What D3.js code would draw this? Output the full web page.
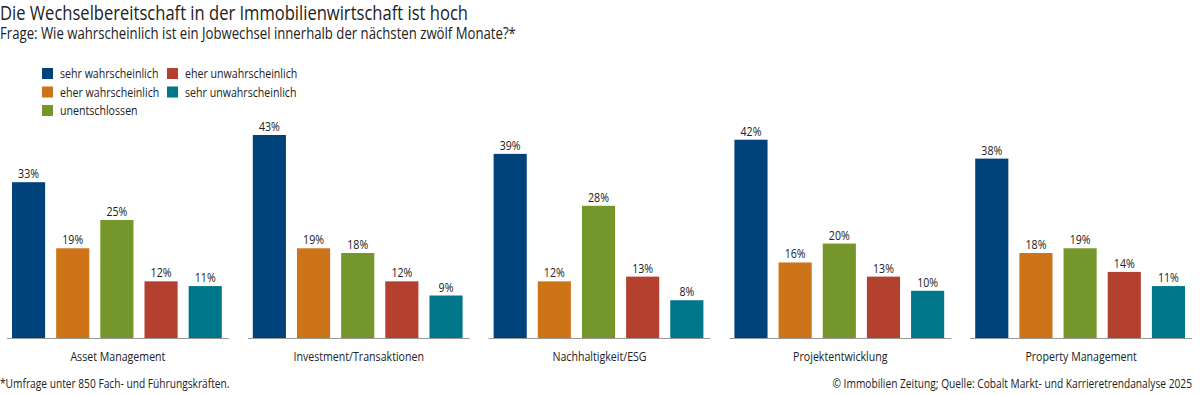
<!DOCTYPE html>
<html><head><meta charset="utf-8">
<script src="https://cdn.jsdelivr.net/npm/d3@7"></script>
<style>
body{margin:0;background:#fff;}
svg text{font-family:"Open Sans",sans-serif;fill:#222;}
</style></head>
<body><svg id="c" width="1200" height="395"></svg>
<script>
const categories = ["Asset Management","Investment/Transaktionen","Nachhaltigkeit/ESG","Projektentwicklung","Property Management"];
const seriesNames = ["sehr wahrscheinlich","eher wahrscheinlich","unentschlossen","eher unwahrscheinlich","sehr unwahrscheinlich"];
const seriesColors = ["#00427a","#cd7419","#74962a","#b4412f","#00768a"];
const sehrWahrscheinlich = [33,43,39,42,38];
const eherWahrscheinlich = [19,19,12,16,18];
const unentschlossen = [25,18,28,20,19];
const eherUnwahrscheinlich = [12,12,13,13,14];
const sehrUnwahrscheinlich = [11,9,8,10,11];
const seriesValues = [sehrWahrscheinlich,eherWahrscheinlich,unentschlossen,eherUnwahrscheinlich,sehrUnwahrscheinlich];

const COND = 0.85; // horizontal condensing to mimic a condensed typeface
function txt(parent, x, y, str, size, anchor, fill){
  return parent.append("text")
    .attr("transform",`translate(${x},${y}) scale(${COND},1)`)
    .attr("font-size",size).attr("text-anchor",anchor||"start")
    .attr("fill",fill||"#222").text(str);
}

const svg = d3.select("#c");
txt(svg,0,20,"Die Wechselbereitschaft in der Immobilienwirtschaft ist hoch",19.5,"start","#1a1a1a");
txt(svg,0,39,"Frage: Wie wahrscheinlich ist ein Jobwechsel innerhalb der nächsten zwölf Monate?*",15.5,"start","#333");

// legend
const legPos = [[42,68],[42,86.5],[42,105],[167,68],[167,86.5]];
seriesNames.forEach((name,i)=>{
  const [lx,ly] = legPos[i];
  svg.append("rect").attr("x",lx).attr("y",ly).attr("width",11).attr("height",11).attr("fill",seriesColors[i]);
  txt(svg,lx+18,ly+10,name,12.5,"start","#333");
});

const baseY = 338;
const y = d3.scaleLinear().domain([0,43]).range([baseY,135]);
const gx = d3.scaleBand().domain(categories).range([7,1192]).paddingInner(0.079).paddingOuter(0);
const bx = d3.scaleBand().domain(d3.range(5)).range([5,gx.bandwidth()-7]).paddingInner(0.25).paddingOuter(0);

const g = svg.selectAll("g.grp").data(categories).join("g").attr("class","grp")
  .attr("transform",d=>`translate(${gx(d)},0)`);
g.each(function(cat,ci){
  const gg = d3.select(this);
  const vals = seriesValues.map(a=>a[ci]);
  gg.selectAll("rect").data(vals).join("rect")
    .attr("x",(d,i)=>bx(i)).attr("width",bx.bandwidth())
    .attr("y",d=>y(d)).attr("height",d=>baseY-y(d))
    .attr("fill",(d,i)=>seriesColors[i]);
  vals.forEach((d,i)=>{
    txt(gg,bx(i)+bx.bandwidth()/2,y(d)-4,d+"%",12.5,"middle","#333");
  });
  gg.append("line").attr("x1",0).attr("x2",gx.bandwidth()).attr("y1",baseY+0.5).attr("y2",baseY+0.5)
    .attr("stroke","#999").attr("stroke-width",1);
  txt(gg,gx.bandwidth()/2,361,cat,12.5,"middle","#222");
});

txt(svg,0,388,"*Umfrage unter 850 Fach- und Führungskräften.",12,"start","#333");
txt(svg,1192,388,"© Immobilien Zeitung; Quelle: Cobalt Markt- und Karrieretrendanalyse 2025",12,"end","#333");
</script></body></html>
